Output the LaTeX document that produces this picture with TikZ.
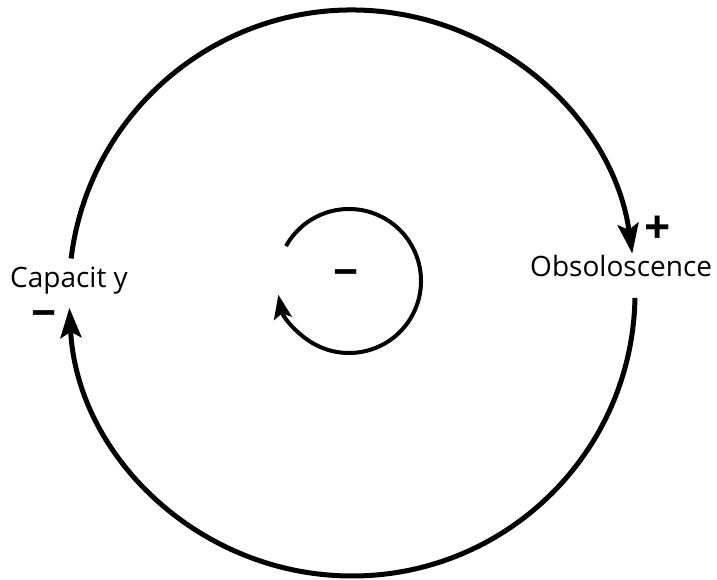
\documentclass[tikz,border=0pt]{standalone}
\usepackage{fontspec}
\setmainfont{Open Sans}
\usetikzlibrary{arrows.meta}

\begin{document}
\begin{tikzpicture}[x=1pt, y=1pt, every node/.style={font=\fontsize{28}{28}\selectfont, inner sep=0pt}, >={Stealth[length=30pt, width=21pt, inset=6pt]}]
	\useasboundingbox (0,0) rectangle (717,580);
	\coordinate (outer) at (352,287);
	\coordinate (inner) at (349,299);
	% labels
	\node[anchor=base west] (capacity) at (10,292) {Capacit y};
	\node[anchor=base west] (obsolescence) at (530,303) {Obsoloscence};
	\node[font=\fontsize{46}{46}\bfseries] (plus) at (658,350) {+};
	\node[font=\fontsize{44}{44}\bfseries] (minusleft) at (44,260) {−};
	\node[font=\fontsize{44}{44}\bfseries] (minusmid) at (346,301) {−};
	% outer loop
	\draw[->, line width=5pt] ([shift={(173:283pt)}]outer) coordinate (capout)
		arc[start angle=173, end angle=8, radius=283pt] coordinate (obsin);
	\draw[->, line width=5pt] ([shift={(-1:283pt)}]outer) coordinate (obsout)
		arc[start angle=-1, end angle=-177, radius=283pt] coordinate (capin);
	% inner loop
	\draw[->, line width=4pt, >={Stealth[length=24pt, width=18pt, inset=5pt]}] ([shift={(151:72pt)}]inner)
		arc[start angle=151, end angle=-169, radius=72pt];
\end{tikzpicture}
\end{document}
